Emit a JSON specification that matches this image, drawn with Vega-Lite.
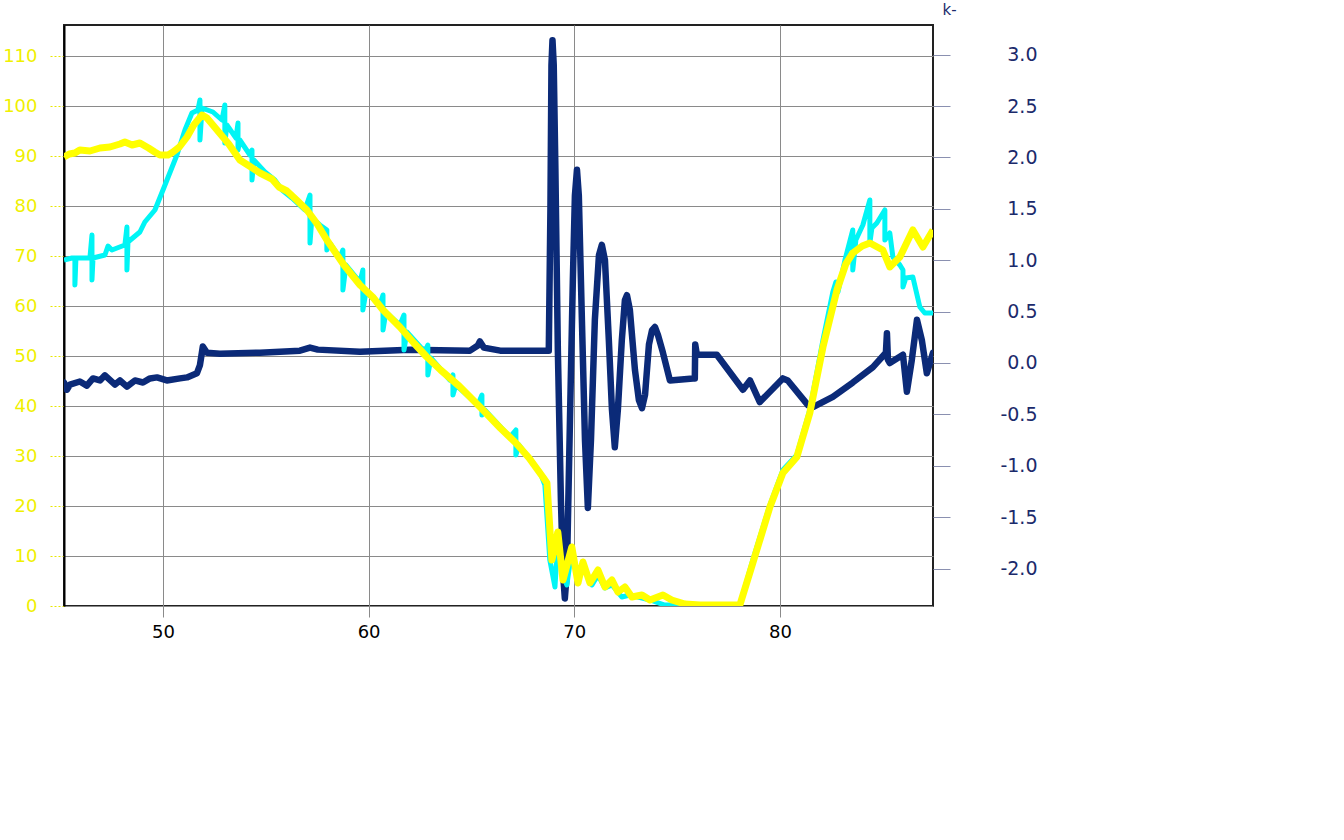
{
  "$schema": "https://vega.github.io/schema/vega-lite/v6.json",
  "width": 869,
  "height": 581,
  "autosize": {"type": "none"},
  "padding": {"left": 64, "top": 25, "right": 411, "bottom": 234},
  "background": "white",
  "config": {
    "font": "DejaVu Sans",
    "view": {"stroke": "#222222", "strokeWidth": 2}
  },
  "datasets": {
    "navy": [
      {"x": 45.19, "v": -0.19}, {"x": 45.33, "v": -0.26}, {"x": 45.48, "v": -0.21}, {"x": 45.96, "v": -0.18},
      {"x": 46.3, "v": -0.22}, {"x": 46.6, "v": -0.15}, {"x": 46.94, "v": -0.17}, {"x": 47.18, "v": -0.12},
      {"x": 47.67, "v": -0.21}, {"x": 47.91, "v": -0.17}, {"x": 48.25, "v": -0.23}, {"x": 48.64, "v": -0.17},
      {"x": 49.03, "v": -0.19}, {"x": 49.37, "v": -0.15}, {"x": 49.71, "v": -0.14}, {"x": 50.19, "v": -0.17},
      {"x": 50.83, "v": -0.15}, {"x": 51.17, "v": -0.14}, {"x": 51.65, "v": -0.1}, {"x": 51.8, "v": -0.02},
      {"x": 51.94, "v": 0.16}, {"x": 52.14, "v": 0.1}, {"x": 52.77, "v": 0.09}, {"x": 54.72, "v": 0.1},
      {"x": 56.66, "v": 0.12}, {"x": 57.15, "v": 0.15}, {"x": 57.53, "v": 0.13}, {"x": 59.58, "v": 0.11},
      {"x": 62.0, "v": 0.13}, {"x": 64.93, "v": 0.12}, {"x": 65.31, "v": 0.17}, {"x": 65.41, "v": 0.21},
      {"x": 65.6, "v": 0.15}, {"x": 66.4, "v": 0.12}, {"x": 68.76, "v": 0.12}, {"x": 68.84, "v": 1.5},
      {"x": 68.89, "v": 2.9}, {"x": 68.94, "v": 3.14}, {"x": 69.0, "v": 2.9}, {"x": 69.08, "v": 1.9},
      {"x": 69.2, "v": 0.13}, {"x": 69.35, "v": -1.34}, {"x": 69.45, "v": -2.03}, {"x": 69.54, "v": -2.29},
      {"x": 69.64, "v": -2.03}, {"x": 69.79, "v": -0.55}, {"x": 69.93, "v": 0.81}, {"x": 70.03, "v": 1.63},
      {"x": 70.13, "v": 1.88}, {"x": 70.22, "v": 1.63}, {"x": 70.37, "v": 0.42}, {"x": 70.52, "v": -0.75},
      {"x": 70.66, "v": -1.41}, {"x": 70.81, "v": -0.75}, {"x": 71.0, "v": 0.42}, {"x": 71.2, "v": 1.05},
      {"x": 71.34, "v": 1.15}, {"x": 71.49, "v": 1.0}, {"x": 71.68, "v": 0.22}, {"x": 71.83, "v": -0.45},
      {"x": 71.97, "v": -0.82}, {"x": 72.12, "v": -0.45}, {"x": 72.31, "v": 0.22}, {"x": 72.46, "v": 0.61},
      {"x": 72.56, "v": 0.66}, {"x": 72.7, "v": 0.52}, {"x": 72.95, "v": -0.07}, {"x": 73.14, "v": -0.36},
      {"x": 73.29, "v": -0.44}, {"x": 73.44, "v": -0.31}, {"x": 73.63, "v": 0.18}, {"x": 73.78, "v": 0.32},
      {"x": 73.92, "v": 0.35}, {"x": 74.07, "v": 0.27}, {"x": 74.31, "v": 0.1}, {"x": 74.65, "v": -0.17},
      {"x": 75.77, "v": -0.15}, {"x": 75.86, "v": -0.15}, {"x": 75.88, "v": 0.18}, {"x": 75.96, "v": 0.08},
      {"x": 76.93, "v": 0.08}, {"x": 78.2, "v": -0.26}, {"x": 78.54, "v": -0.17}, {"x": 79.02, "v": -0.38},
      {"x": 80.14, "v": -0.15}, {"x": 80.38, "v": -0.17}, {"x": 81.36, "v": -0.41}, {"x": 81.6, "v": -0.43},
      {"x": 82.57, "v": -0.33}, {"x": 83.54, "v": -0.19}, {"x": 84.52, "v": -0.04}, {"x": 85.15, "v": 0.1},
      {"x": 85.2, "v": 0.29}, {"x": 85.25, "v": 0.03}, {"x": 85.34, "v": 0.0}, {"x": 85.98, "v": 0.08},
      {"x": 86.17, "v": -0.28}, {"x": 86.41, "v": 0.03}, {"x": 86.66, "v": 0.42}, {"x": 86.9, "v": 0.22},
      {"x": 87.14, "v": -0.1}, {"x": 87.44, "v": 0.1}
    ],
    "cyan": [
      {"x": 45.19, "v": 69.2}, {"x": 45.58, "v": 69.6}, {"x": 45.72, "v": 69.6}, {"x": 45.72, "v": 64.2},
      {"x": 45.77, "v": 69.6}, {"x": 46.45, "v": 69.6}, {"x": 46.55, "v": 74.2}, {"x": 46.55, "v": 65.2},
      {"x": 46.6, "v": 69.6}, {"x": 47.18, "v": 70.2}, {"x": 47.33, "v": 72.0}, {"x": 47.52, "v": 71.2},
      {"x": 48.15, "v": 72.2}, {"x": 48.25, "v": 75.8}, {"x": 48.25, "v": 67.2}, {"x": 48.3, "v": 72.8},
      {"x": 48.88, "v": 74.8}, {"x": 49.12, "v": 76.8}, {"x": 49.61, "v": 79.2}, {"x": 50.1, "v": 84.2},
      {"x": 50.68, "v": 90.2}, {"x": 51.07, "v": 95.2}, {"x": 51.41, "v": 98.6}, {"x": 51.7, "v": 99.2},
      {"x": 51.8, "v": 101.2}, {"x": 51.8, "v": 93.2}, {"x": 51.9, "v": 99.6}, {"x": 52.43, "v": 98.8},
      {"x": 52.87, "v": 97.2}, {"x": 53.01, "v": 100.2}, {"x": 53.01, "v": 92.6}, {"x": 53.11, "v": 96.2},
      {"x": 53.55, "v": 93.6}, {"x": 53.65, "v": 96.6}, {"x": 53.65, "v": 91.2}, {"x": 53.74, "v": 93.2},
      {"x": 54.23, "v": 90.2}, {"x": 54.33, "v": 91.2}, {"x": 54.33, "v": 85.2}, {"x": 54.42, "v": 89.2},
      {"x": 54.96, "v": 86.8}, {"x": 55.44, "v": 85.2}, {"x": 55.79, "v": 83.2}, {"x": 56.27, "v": 81.6},
      {"x": 56.9, "v": 79.2}, {"x": 57.15, "v": 82.2}, {"x": 57.15, "v": 72.6}, {"x": 57.24, "v": 77.6},
      {"x": 57.63, "v": 76.2}, {"x": 57.97, "v": 75.2}, {"x": 57.97, "v": 71.2}, {"x": 58.12, "v": 72.6},
      {"x": 58.6, "v": 69.6}, {"x": 58.75, "v": 71.2}, {"x": 58.75, "v": 63.2}, {"x": 58.9, "v": 68.2},
      {"x": 59.58, "v": 64.8}, {"x": 59.72, "v": 67.2}, {"x": 59.72, "v": 59.2}, {"x": 59.87, "v": 62.8},
      {"x": 60.55, "v": 60.2}, {"x": 60.7, "v": 62.2}, {"x": 60.7, "v": 55.2}, {"x": 60.84, "v": 58.8},
      {"x": 61.52, "v": 56.2}, {"x": 61.72, "v": 58.2}, {"x": 61.72, "v": 51.2}, {"x": 61.86, "v": 54.8},
      {"x": 62.74, "v": 50.8}, {"x": 62.88, "v": 52.2}, {"x": 62.88, "v": 46.2}, {"x": 63.03, "v": 49.6},
      {"x": 63.95, "v": 45.2}, {"x": 64.1, "v": 46.2}, {"x": 64.1, "v": 42.2}, {"x": 64.24, "v": 44.2},
      {"x": 65.31, "v": 40.2}, {"x": 65.51, "v": 42.2}, {"x": 65.51, "v": 38.2}, {"x": 65.65, "v": 39.2},
      {"x": 66.87, "v": 33.8}, {"x": 67.16, "v": 35.2}, {"x": 67.16, "v": 30.2}, {"x": 67.31, "v": 32.2},
      {"x": 68.33, "v": 26.8}, {"x": 68.57, "v": 24.2}, {"x": 68.81, "v": 9.2}, {"x": 69.06, "v": 3.8},
      {"x": 69.2, "v": 13.2}, {"x": 69.45, "v": 6.2}, {"x": 69.64, "v": 4.2}, {"x": 69.88, "v": 11.2},
      {"x": 70.18, "v": 5.2}, {"x": 70.42, "v": 8.2}, {"x": 70.86, "v": 4.2}, {"x": 71.15, "v": 6.2},
      {"x": 71.49, "v": 3.6}, {"x": 71.83, "v": 4.2}, {"x": 72.31, "v": 1.8}, {"x": 72.7, "v": 2.2},
      {"x": 73.29, "v": 1.6}, {"x": 73.68, "v": 1.2}, {"x": 74.4, "v": 0.2}, {"x": 75.13, "v": 0.2},
      {"x": 78.05, "v": 0.2}, {"x": 78.68, "v": 9.2}, {"x": 79.51, "v": 20.2}, {"x": 80.14, "v": 27.2},
      {"x": 80.82, "v": 30.2}, {"x": 81.45, "v": 39.2}, {"x": 82.09, "v": 53.2}, {"x": 82.57, "v": 62.8},
      {"x": 82.72, "v": 64.8}, {"x": 82.82, "v": 62.8}, {"x": 83.16, "v": 69.2}, {"x": 83.54, "v": 75.2},
      {"x": 83.54, "v": 67.2}, {"x": 83.69, "v": 73.2}, {"x": 84.03, "v": 76.2}, {"x": 84.37, "v": 81.2},
      {"x": 84.37, "v": 72.6}, {"x": 84.47, "v": 75.6}, {"x": 84.71, "v": 76.6}, {"x": 85.1, "v": 79.2},
      {"x": 85.1, "v": 73.2}, {"x": 85.34, "v": 74.6}, {"x": 85.49, "v": 69.8}, {"x": 85.83, "v": 68.2},
      {"x": 85.98, "v": 67.2}, {"x": 85.98, "v": 63.8}, {"x": 86.12, "v": 65.6}, {"x": 86.46, "v": 65.8},
      {"x": 86.8, "v": 59.8}, {"x": 87.04, "v": 58.6}, {"x": 87.44, "v": 58.6}
    ],
    "yellow": [
      {"x": 45.19, "v": 89.8}, {"x": 45.45, "v": 90.4}, {"x": 45.72, "v": 90.6}, {"x": 45.96, "v": 91.2},
      {"x": 46.45, "v": 91.0}, {"x": 46.94, "v": 91.6}, {"x": 47.42, "v": 91.8}, {"x": 47.91, "v": 92.4},
      {"x": 48.15, "v": 92.8}, {"x": 48.5, "v": 92.2}, {"x": 48.88, "v": 92.6}, {"x": 49.3, "v": 91.6},
      {"x": 49.6, "v": 90.8}, {"x": 49.85, "v": 90.2}, {"x": 50.25, "v": 90.2}, {"x": 50.49, "v": 90.8},
      {"x": 50.8, "v": 91.8}, {"x": 51.17, "v": 93.8}, {"x": 51.5, "v": 96.2}, {"x": 51.9, "v": 98.2},
      {"x": 52.14, "v": 97.6}, {"x": 52.63, "v": 95.2}, {"x": 53.2, "v": 92.4}, {"x": 53.74, "v": 89.2},
      {"x": 54.2, "v": 88.0}, {"x": 54.72, "v": 86.6}, {"x": 55.3, "v": 85.4}, {"x": 55.64, "v": 83.8},
      {"x": 56.03, "v": 83.0}, {"x": 56.5, "v": 81.2}, {"x": 57.0, "v": 79.2}, {"x": 57.5, "v": 76.4},
      {"x": 57.97, "v": 73.2}, {"x": 58.8, "v": 68.2}, {"x": 59.58, "v": 64.2}, {"x": 60.2, "v": 61.8},
      {"x": 60.7, "v": 59.2}, {"x": 61.52, "v": 55.8}, {"x": 62.2, "v": 52.6}, {"x": 62.83, "v": 49.8},
      {"x": 63.5, "v": 47.2}, {"x": 64.4, "v": 44.0}, {"x": 65.56, "v": 39.2}, {"x": 66.4, "v": 35.6},
      {"x": 67.16, "v": 32.6}, {"x": 67.8, "v": 29.6}, {"x": 68.47, "v": 25.8}, {"x": 68.67, "v": 24.6},
      {"x": 68.91, "v": 9.2}, {"x": 69.2, "v": 14.8}, {"x": 69.45, "v": 5.2}, {"x": 69.88, "v": 11.8},
      {"x": 70.18, "v": 4.6}, {"x": 70.42, "v": 8.8}, {"x": 70.76, "v": 4.6}, {"x": 71.15, "v": 7.2},
      {"x": 71.49, "v": 3.8}, {"x": 71.83, "v": 5.2}, {"x": 72.12, "v": 2.8}, {"x": 72.46, "v": 3.8},
      {"x": 72.8, "v": 1.8}, {"x": 73.29, "v": 2.2}, {"x": 73.68, "v": 1.2}, {"x": 74.31, "v": 2.2},
      {"x": 74.74, "v": 1.2}, {"x": 75.38, "v": 0.4}, {"x": 76.11, "v": 0.2}, {"x": 78.05, "v": 0.2},
      {"x": 78.68, "v": 8.6}, {"x": 79.51, "v": 19.8}, {"x": 80.14, "v": 26.6}, {"x": 80.82, "v": 29.8},
      {"x": 81.45, "v": 38.6}, {"x": 82.09, "v": 51.8}, {"x": 82.77, "v": 63.2}, {"x": 83.2, "v": 68.4},
      {"x": 83.54, "v": 70.6}, {"x": 84.0, "v": 72.0}, {"x": 84.37, "v": 72.6}, {"x": 85.0, "v": 71.2},
      {"x": 85.34, "v": 67.8}, {"x": 85.83, "v": 69.8}, {"x": 86.46, "v": 75.2}, {"x": 86.95, "v": 71.8},
      {"x": 87.44, "v": 75.2}
    ]
  },
  "encoding": {
    "x": {
      "field": "x",
      "type": "quantitative",
      "scale": {"domain": [45.19, 87.44], "nice": false, "zero": false},
      "axis": {
        "title": null,
        "values": [50, 60, 70, 80],
        "grid": true,
        "gridColor": "#8a8a8a",
        "gridOpacity": 1,
        "domain": false,
        "tickColor": "#8a8a8a",
        "tickSize": 11,
        "labelFontSize": 18,
        "labelColor": "#000000",
        "labelPadding": 6
      }
    }
  },
  "layer": [
    {
      "data": {"name": "navy"},
      "mark": {"type": "line", "color": "#0b2a78", "strokeWidth": 6.5, "strokeJoin": "round", "strokeCap": "round", "clip": true},
      "encoding": {
        "order": {"value": null},
        "y": {
          "field": "v",
          "type": "quantitative",
          "scale": {"domain": [-2.364, 3.288], "nice": false, "zero": false},
          "axis": {
            "orient": "right",
            "values": [-2, -1.5, -1, -0.5, 0, 0.5, 1, 1.5, 2, 2.5, 3],
            "labelExpr": "replace(format(datum.value, '.1f'), '−', '-')",
            "grid": false,
            "domain": false,
            "tickColor": "#8a90b0",
            "tickSize": 17,
            "labelAlign": "right",
            "labelPadding": 87,
            "labelFontSize": 19,
            "labelColor": "#1b2a6b",
            "title": "k-",
            "titleAngle": 0,
            "titleAlign": "left",
            "titleBaseline": "middle",
            "titleX": 9,
            "titleY": -16,
            "titleFontSize": 15,
            "titleFontWeight": "normal",
            "titleColor": "#1b2a6b"
          }
        }
      }
    },
    {
      "data": {"name": "cyan"},
      "mark": {"type": "line", "color": "#00f5f5", "strokeWidth": 5, "strokeJoin": "round", "clip": true},
      "encoding": {
        "order": {"value": null},
        "y": {
          "field": "v",
          "type": "quantitative",
          "scale": {"domain": [0, 116.2], "nice": false, "zero": false},
          "axis": {
            "orient": "left",
            "values": [0, 10, 20, 30, 40, 50, 60, 70, 80, 90, 100, 110],
            "grid": true,
            "gridColor": "#8a8a8a",
            "gridOpacity": 1,
            "domain": true,
            "domainColor": "#000000",
            "domainWidth": 2,
            "tickColor": "#e8e800",
            "tickSize": 16,
            "tickDash": [2, 2],
            "labelPadding": 11,
            "labelFontSize": 18,
            "labelColor": "#f0f000",
            "title": null
          }
        }
      }
    },
    {
      "data": {"name": "yellow"},
      "mark": {"type": "line", "color": "#ffff00", "strokeWidth": 7, "strokeJoin": "round", "clip": true},
      "encoding": {
        "order": {"value": null},
        "y": {
          "field": "v",
          "type": "quantitative",
          "scale": {"domain": [0, 116.2], "nice": false, "zero": false},
          "axis": null
        }
      }
    }
  ],
  "resolve": {"scale": {"y": "independent"}}
}
